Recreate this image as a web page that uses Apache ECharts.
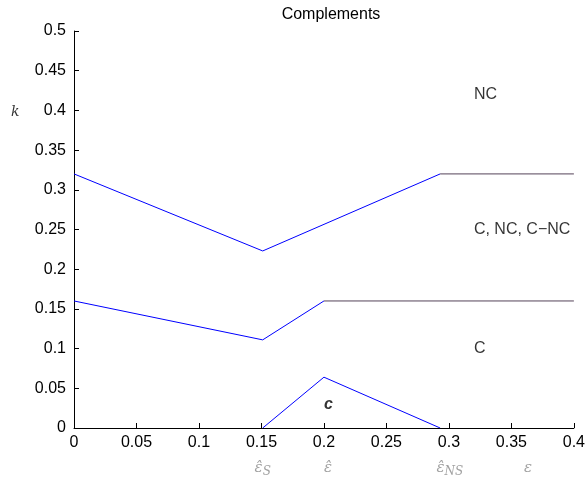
<!DOCTYPE html>
<html>
<head>
<meta charset="utf-8">
<script src="https://cdn.jsdelivr.net/npm/echarts@6/dist/echarts.min.js"></script>
<style>
  html, body { margin: 0; padding: 0; background: #fff; }
  #chart { width: 588px; height: 481px; }
</style>
</head>
<body>
<div id="chart"></div>
<script>
// Region boundaries in the (epsilon, k) plane
const upperBoundary = [[0, 0.32], [0.151, 0.223], [0.293, 0.32]];
const upperFlat = [[0.293, 0.32], [0.4, 0.32]];
const middleBoundary = [[0, 0.16], [0.151, 0.111], [0.2, 0.16]];
const middleFlat = [[0.2, 0.16], [0.4, 0.16]];
const lowerBoundary = [[0.151, 0], [0.2, 0.064], [0.293, 0]];

// Region names
const regionLabels = [
  { text: 'NC', at: [0.32, 0.42] },
  { text: 'C, NC, C\u2212NC', at: [0.32, 0.25] },
  { text: 'C', at: [0.32, 0.10] }
];
const innerLabel = { text: 'c', at: [0.2, 0.03] };

// Threshold markers below the epsilon axis
const thresholdLabels = [
  { main: '\u03b5\u0302', sub: 'S', at: [0.1445, -0.05] },
  { main: '\u03b5\u0302', sub: '', at: [0.2, -0.05] },
  { main: '\u03b5\u0302', sub: 'NS', at: [0.29, -0.05] },
  { main: '\u03b5', sub: '', at: [0.36, -0.05] }
];
const kLabel = { text: 'k', at: [-0.047, 0.397] };

const blue = '#0000ff';
const flatColor = '#554258';
const sans = 'Liberation Sans, Arial, Helvetica';

function lineSeries(data, color) {
  return {
    type: 'line',
    data: data,
    symbol: 'none',
    lineStyle: { color: color, width: 1 },
    animation: false,
    z: color === blue ? 2 : 3
  };
}

function textSeries(data, label) {
  return {
    type: 'scatter',
    symbolSize: 0,
    clip: false,
    silent: true,
    data: data,
    label: Object.assign({ show: true, position: 'right', distance: 0 }, label)
  };
}

const chart = echarts.init(document.getElementById('chart'));
chart.setOption({
  animation: false,
  backgroundColor: '#fff',
  title: {
    text: 'Complements',
    left: 326,
    textAlign: 'center',
    top: 2,
    textStyle: { fontFamily: sans, fontSize: 16, fontWeight: 'normal', color: '#000' }
  },
  grid: { left: 74, right: 10, top: 31, bottom: 53 },
  xAxis: {
    type: 'value',
    min: 0, max: 0.4, interval: 0.05,
    axisLine: { show: true, onZero: false, lineStyle: { color: '#000', width: 1 } },
    axisTick: { show: true, inside: true, length: 5, lineStyle: { color: '#000' } },
    axisLabel: { color: '#000', fontFamily: sans, fontSize: 16, margin: 7 },
    splitLine: { show: false }
  },
  yAxis: {
    type: 'value',
    min: 0, max: 0.5, interval: 0.05,
    axisLine: { show: true, onZero: false, lineStyle: { color: '#000', width: 1 } },
    axisTick: { show: true, inside: true, length: 5, lineStyle: { color: '#000' } },
    axisLabel: { color: '#000', fontFamily: sans, fontSize: 16, margin: 8 },
    splitLine: { show: false }
  },
  series: [
    lineSeries(upperBoundary, blue),
    lineSeries(middleBoundary, blue),
    lineSeries(lowerBoundary, blue),
    lineSeries(upperFlat, flatColor),
    lineSeries(middleFlat, flatColor),
    textSeries(regionLabels.map(r => ({ value: r.at, name: r.text })), {
      formatter: p => p.name,
      color: '#000', fontFamily: sans, fontSize: 16
    }),
    textSeries([{ value: innerLabel.at, name: innerLabel.text }], {
      formatter: p => p.name,
      color: '#000', fontFamily: sans, fontSize: 16, fontStyle: 'italic', fontWeight: 'bold'
    }),
    textSeries(thresholdLabels.map(t => ({ value: t.at, name: t.main, sub: t.sub })), {
      formatter: p => p.data.sub ? '{m|' + p.name + '}{s|' + p.data.sub + '}' : '{m|' + p.name + '}',
      rich: {
        m: { color: '#8a8a8a', fontFamily: 'DejaVu Serif', fontStyle: 'italic', fontSize: 15 },
        s: { color: '#8a8a8a', fontFamily: 'DejaVu Serif', fontStyle: 'italic', fontSize: 12, padding: [8, 0, 0, 0] }
      }
    }),
    textSeries([{ value: kLabel.at, name: kLabel.text }], {
      position: 'inside',
      formatter: p => p.name,
      color: '#000', fontFamily: 'DejaVu Serif', fontStyle: 'italic', fontSize: 14
    })
  ]
});
</script>
</body>
</html>
